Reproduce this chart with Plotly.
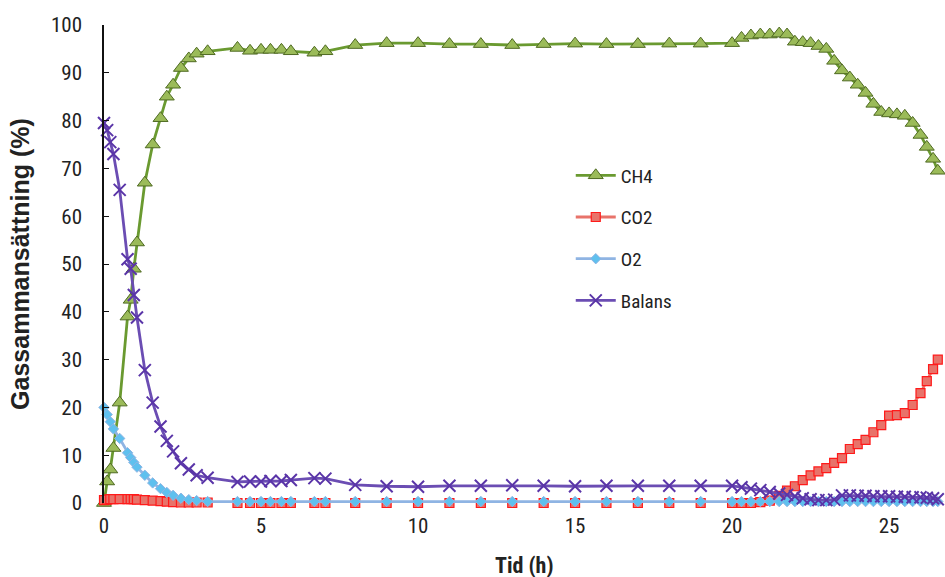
import plotly.graph_objects as go

# Sampling times (h)
tid = [
    0.0, 0.1, 0.2, 0.3, 0.5, 0.75, 0.85, 0.95, 1.05, 1.3, 1.55, 1.8, 2.0, 2.2, 2.45, 2.7, 2.95, 3.3,
    4.25, 4.65, 5.0, 5.3, 5.65, 5.95, 6.7, 7.05,
    8, 9, 10, 11, 12, 13, 14, 15, 16, 17, 18, 19,
    20.0, 20.3, 20.6, 20.9, 21.2, 21.5, 21.75, 22.0, 22.25, 22.5, 22.75, 23.0, 23.25, 23.5,
    23.75, 24.0, 24.25, 24.5, 24.75, 25.0, 25.25, 25.5, 25.75, 26.0, 26.2, 26.4, 26.55,
]

ch4 = [
    0, 4.5, 7, 11.5, 21, 39, 42.5, 49, 54.5, 67, 75, 80.5, 85, 87.5, 91, 93, 94, 94.5,
    95.2, 94.6, 94.8, 94.8, 94.8, 94.5, 94.2, 94.5,
    95.8, 96.2, 96.2, 96.0, 96.0, 95.8, 96.0, 96.1, 96.0, 96.0, 96.1, 96.1,
    96.2, 97.3, 97.8, 98.0, 98.0, 98.2, 98.0, 96.5, 96.4, 96.2, 95.6, 95.0, 92.5, 90.5,
    89.0, 87.5, 85.8, 83.5, 81.8, 81.5, 81.3, 81.0, 79.5, 77.0, 74.5, 72.0, 69.5,
]

co2 = [
    0.6, 0.7, 0.8, 0.8, 0.8, 0.8, 0.8, 0.8, 0.7, 0.6, 0.5, 0.4, 0.3, 0.2, 0.1, 0.1, 0.1, 0.1,
    0, 0, 0, 0, 0, 0, 0, 0,
    0, 0, 0, 0, 0, 0, 0, 0, 0, 0, 0, 0,
    0, 0, 0, 0.2, 0.5, 1.5, 2.6, 3.5, 4.8, 5.8, 6.6, 7.3, 8.4, 9.4,
    11.3, 12.3, 13.2, 14.8, 16.3, 18.3, 18.4, 18.8, 20.5, 23.0, 25.5, 28.0, 30.0,
]

o2 = [
    20, 18.5, 17, 15.5, 13.5, 10.5, 9.5, 8.5, 7.5, 5.8, 4.2, 3.0, 2.2, 1.6, 1.0, 0.7, 0.5, 0.3,
    0.3, 0.3, 0.3, 0.3, 0.3, 0.3, 0.3, 0.3,
    0.3, 0.3, 0.3, 0.3, 0.3, 0.3, 0.3, 0.3, 0.3, 0.3, 0.3, 0.3,
    0.3, 0.3, 0.3, 0.3, 0.3, 0.3, 0.3, 0.3, 0.3, 0.3, 0.3, 0.3, 0.3, 0.3,
    0.3, 0.3, 0.3, 0.3, 0.3, 0.3, 0.3, 0.3, 0.3, 0.3, 0.3, 0.3, 0.3,
]

balans = [
    79.5, 78, 75.5, 73, 65.5, 51, 49, 43.5, 38.8, 27.8, 21, 16, 13, 10.8, 8.3, 7.0, 5.8, 5.3,
    4.4, 4.5, 4.5, 4.6, 4.6, 4.8, 5.2, 5.1,
    3.8, 3.5, 3.4, 3.6, 3.6, 3.7, 3.6, 3.5, 3.6, 3.6, 3.6, 3.6,
    3.6, 3.3, 3.0, 2.7, 2.3, 2.0, 1.7, 1.4, 1.0, 0.8, 0.6, 0.6, 0.7, 1.6,
    1.6, 1.5, 1.5, 1.4, 1.4, 1.4, 1.3, 1.3, 1.2, 1.2, 1.1, 1.0, 0.8,
]

x_ticks = [0, 5, 10, 15, 20, 25]
y_ticks = list(range(0, 101, 10))

NARROW = "Liberation Sans Narrow, Roboto Condensed, Arial Narrow, sans-serif"
WIDE = "Liberation Sans, Arial, sans-serif"

series = [
    ("CH4", ch4, dict(color="#6a9a30", width=2.8),
     dict(symbol="triangle-up", size=13, color="#9bbb59", line=dict(color="#4f6a22", width=1))),
    ("CO2", co2, dict(color="#e8736a", width=2.8),
     dict(symbol="square", size=9, color="#e8736a", line=dict(color="#ff1a1a", width=1.2))),
    ("O2", o2, dict(color="#8fb4e3", width=2.8),
     dict(symbol="diamond", size=8, color="#5fc0ee", line=dict(color="#8fb4e3", width=1))),
    ("Balans", balans, dict(color="#6b4db3", width=2.8),
     dict(symbol="x-thin", size=12, color="#5a35a8", line=dict(color="#5a35a8", width=2))),
]

fig = go.Figure()
for i, (name, vals, line, marker) in enumerate(series):
    fig.add_trace(go.Scatter(
        x=tid, y=vals, name=name, mode="lines+markers",
        line=line, marker=marker, cliponaxis=False,
        legendgroup=f"g{i}",
    ))

fig.update_layout(
    width=945, height=577,
    margin=dict(l=104, r=0, t=25, b=74),
    paper_bgcolor="white", plot_bgcolor="white",
    font=dict(family=NARROW, size=21, color="#222222"),
    showlegend=True,
    legend=dict(
        x=0.555, y=0.725, xanchor="left", yanchor="top",
        font=dict(family=NARROW, size=19, color="#222222"),
        tracegroupgap=14, bgcolor="rgba(0,0,0,0)",
        itemwidth=40,
    ),
    xaxis=dict(
        range=[0, 26.78], tickvals=x_ticks, showline=False, showgrid=False,
        zeroline=False, ticks="", ticklabelstandoff=8,
    ),
    yaxis=dict(
        range=[0, 100], tickvals=y_ticks, showline=True, linecolor="#111111",
        linewidth=1.5, showgrid=False, zeroline=False, ticks="inside",
        ticklen=5, tickcolor="#111111", ticklabelstandoff=16,
    ),
    annotations=[
        dict(text="<b>Tid (h)</b>", xref="paper", yref="paper", x=0.5, y=-0.13,
             xanchor="center", yanchor="middle", showarrow=False,
             font=dict(family=NARROW, size=22, color="#222222")),
        dict(text="<b>Gassammansättning (%)</b>", xref="paper", yref="paper",
             x=-0.1, y=0.5, xanchor="center", yanchor="middle", textangle=-90,
             showarrow=False, font=dict(family=WIDE, size=25, color="#222222")),
    ],
)

fig.write_html("out.html")
